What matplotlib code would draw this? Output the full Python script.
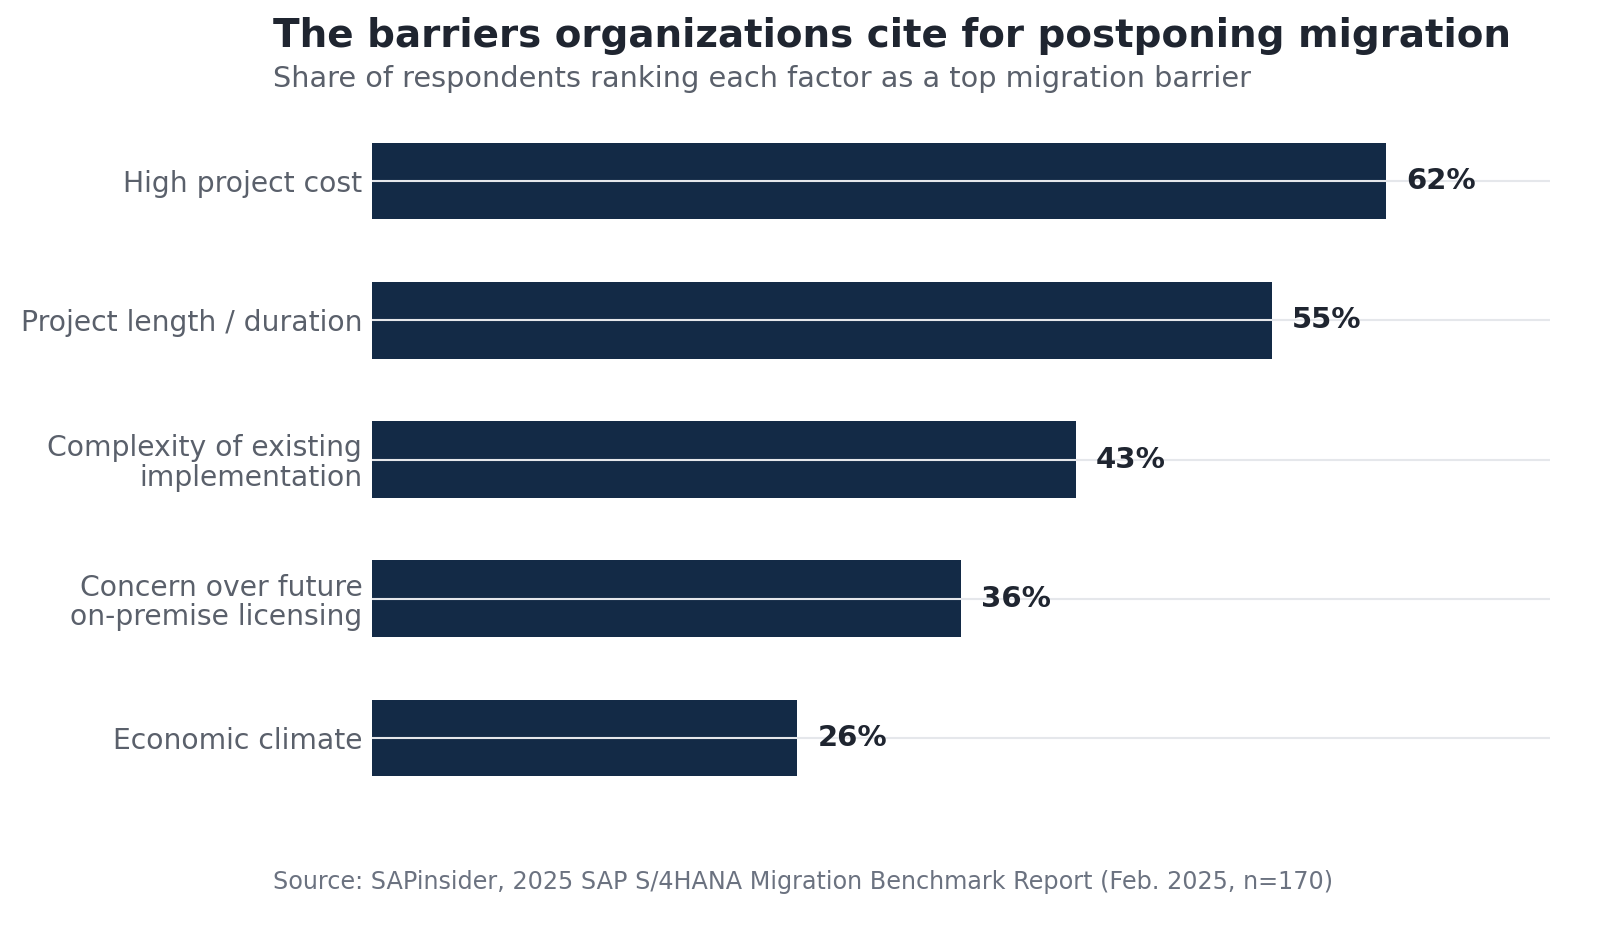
import matplotlib
matplotlib.use("Agg")
import matplotlib.pyplot as plt

categories = ["High project cost", "Project length / duration",
              "Complexity of existing\nimplementation",
              "Concern over future\non-premise licensing", "Economic climate"]
values = [62, 55, 43, 36, 26]
value_labels = ["62%", "55%", "43%", "36%", "26%"]

plt.rcParams['font.family'] = ['DejaVu Sans']
fig = plt.figure(figsize=(16, 9.33), dpi=100)
W, H = 1600, 933
left, right = 372 / W, 1550 / W
top_px, bot_px = 97.5, 821.5
ax = fig.add_axes([left, 1 - bot_px / H, right - left, (bot_px - top_px) / H])

y = list(range(len(categories)))
ax.barh(y, values, height=0.55, color="#132a46", zorder=1)
ax.set_xlim(0, 72)
ax.set_ylim(len(categories) - 0.4, -0.6)
ax.set_yticks(y)
ax.set_yticklabels(categories, fontsize=20.3, color="#5a606b", linespacing=1.05)
ax.tick_params(axis='y', length=0, pad=7)
ax.set_xticks([])
ax.grid(axis='y', color="#e5e7eb", linewidth=1.5, zorder=2)
ax.set_axisbelow(False)
for s in ax.spines.values():
    s.set_visible(False)
for yi, v, lab in zip(y, values, value_labels):
    ax.annotate(lab, (v, yi), xytext=(14.5, 0), textcoords="offset points",
                va="center", ha="left", fontsize=21, fontweight="bold",
                color="#1f2530")

fig.text(273 / W, 1 - 36 / H, "The barriers organizations cite for postponing migration",
         fontsize=28, fontweight="bold", color="#1f2530", va="center", ha="left")
fig.text(273 / W, 1 - 79 / H, "Share of respondents ranking each factor as a top migration barrier",
         fontsize=20.7, color="#5a606b", va="center", ha="left")
fig.text(273 / W, 1 - 882 / H,
         "Source: SAPinsider, 2025 SAP S/4HANA Migration Benchmark Report (Feb. 2025, n=170)",
         fontsize=17.2, color="#6b7280", va="center", ha="left")

fig.savefig("out.png", dpi=100, facecolor="white")
